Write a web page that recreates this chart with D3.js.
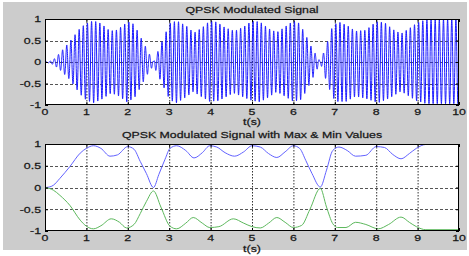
<!DOCTYPE html>
<html><head><meta charset="utf-8">
<script src="https://cdn.jsdelivr.net/npm/d3@7"></script>
<style>
body{margin:0;background:#fff}
svg{display:block}
text{font-family:"Liberation Sans",Arial,sans-serif;fill:#111;stroke:#222;stroke-width:0.25px}
</style>
</head><body>
<script>
// ---- data ----
const xTicks = [0,1,2,3,4,5,6,7,8,9,10];
const yTicks = [-1,-0.5,0,0.5,1];
const yTickLabels = ["-1","-0.5","0","0.5","1"];
const titles = ["QPSK Modulated Signal","QPSK Modulated Signal with Max & Min Values"];
const xLabel = "t(s)";
// upper envelope (max values)
const maxT = [0,0.1,0.2,0.36,0.6,0.85,1.0,1.17,1.35,1.57,1.75,2.0,2.15,2.3,2.45,2.62,2.75,2.9,3.02,3.18,3.4,3.6,3.8,3.98,4.15,4.35,4.58,4.8,5.0,5.2,5.4,5.6,5.8,6.0,6.15,6.3,6.45,6.65,6.8,6.95,7.1,7.3,7.5,7.75,8.0,8.2,8.4,8.6,8.8,8.97,9.2,10];
const maxV = [0,0.01,0.05,0.21,0.48,0.79,0.9,0.96,0.9,0.72,0.75,0.94,0.88,0.6,0.32,0.0,0.3,0.65,0.9,0.96,0.85,0.68,0.8,0.96,0.93,0.8,0.72,0.82,0.96,0.93,0.78,0.69,0.82,0.96,0.9,0.62,0.32,0.01,0.4,0.85,0.93,0.85,0.72,0.74,0.94,0.92,0.76,0.66,0.78,0.9,0.99,1.0];
// lower envelope (min values)
const minT = [0,0.2,0.36,0.6,0.85,1.0,1.17,1.35,1.6,1.8,1.97,2.15,2.3,2.45,2.62,2.8,3.02,3.18,3.4,3.58,3.8,3.98,4.2,4.55,4.8,5.0,5.2,5.4,5.6,5.8,6.0,6.2,6.4,6.65,6.8,6.95,7.07,7.27,7.5,7.75,8.05,8.3,8.6,8.8,8.97,9.2,10];
const minV = [0,-0.06,-0.18,-0.41,-0.75,-0.89,-0.95,-0.88,-0.72,-0.8,-0.93,-0.85,-0.6,-0.32,-0.08,-0.45,-0.89,-0.95,-0.82,-0.69,-0.82,-0.92,-0.9,-0.72,-0.82,-0.9,-0.93,-0.82,-0.69,-0.8,-0.92,-0.87,-0.5,-0.02,-0.45,-0.83,-0.92,-0.92,-0.8,-0.85,-0.95,-0.85,-0.68,-0.8,-0.9,-0.97,-0.97];
const carrierHz = 10;

// ---- drawing ----
const W = 469, H = 256;
const svg = d3.select("body").append("svg").attr("width", W).attr("height", H);
svg.append("rect").attr("x",3).attr("y",2).attr("width",464).attr("height",248).attr("fill","#cccccc");

const L = 45, R = 459;
const x = d3.scaleLinear().domain([0,10]).range([L,R]);
const envMax = d3.scaleLinear().domain(maxT).range(maxV);
const envMin = d3.scaleLinear().domain(minT).range(minV);

const panels = [
  {top:19, bottom:105, title:titles[0], titleY:9.5, tickY:112, labelY:121.5},
  {top:144, bottom:231, title:titles[1], titleY:134.5, tickY:238, labelY:248.5}
];
const SX = 1.3;

function txt(g, px, py, s, anchor){
  g.append("text").attr("transform",`translate(${px},${py}) scale(${SX},1)`)
    .attr("text-anchor",anchor).attr("dy","0.35em")
    .style("font-size","9.5px").text(s);
}

panels.forEach((p,i)=>{
  const y = d3.scaleLinear().domain([-1,1]).range([p.bottom,p.top]);
  const g = svg.append("g");
  g.append("rect").attr("x",L).attr("y",p.top).attr("width",R-L).attr("height",p.bottom-p.top).attr("fill","#fff");
  const cid = "clip"+i;
  g.append("clipPath").attr("id",cid).append("rect").attr("x",L).attr("y",p.top).attr("width",R-L).attr("height",p.bottom-p.top);

  // grid
  g.append("g").selectAll("line").data(xTicks.slice(1,-1)).join("line")
    .attr("x1",d=>x(d)+0.5).attr("x2",d=>x(d)+0.5).attr("y1",p.top).attr("y2",p.bottom)
    .attr("stroke","#333").attr("stroke-width",1).attr("stroke-dasharray","1.5,1.5");
  g.append("g").selectAll("line").data(yTicks.slice(1,-1)).join("line")
    .attr("y1",d=>Math.round(y(d))+0.5).attr("y2",d=>Math.round(y(d))+0.5).attr("x1",L).attr("x2",R)
    .attr("stroke","#555").attr("stroke-width",1).attr("stroke-dasharray","3,2");

  const pg = g.append("g").attr("clip-path",`url(#${cid})`);
  if(i===0){
    const N = 5000;
    const pts = d3.range(N+1).map(k=>{
      const t = k*10/N;
      const s = Math.sin(2*Math.PI*carrierHz*t);
      return [t, s>=0 ? s*envMax(t) : -s*envMin(t)];
    });
    pg.append("path").datum(pts).attr("fill","none").attr("stroke","#1a1aff").attr("stroke-width",1)
      .attr("d", d3.line().x(d=>x(d[0])).y(d=>y(d[1])));
  } else {
    const lineMax = d3.line().x((d,k)=>x(maxT[k])).y(d=>y(d)).curve(d3.curveMonotoneX);
    const lineMin = d3.line().x((d,k)=>x(minT[k])).y(d=>y(d)).curve(d3.curveMonotoneX);
    pg.append("path").datum(maxV).attr("fill","none").attr("stroke","#6262ff").attr("stroke-width",1).attr("d",lineMax);
    pg.append("path").datum(minV).attr("fill","none").attr("stroke","#5cb85c").attr("stroke-width",1).attr("d",lineMin);
  }

  // axes with inward ticks
  const ab = g.append("g").attr("transform",`translate(0,${p.bottom})`)
    .call(d3.axisBottom(x).tickValues(xTicks).tickSizeInner(-3).tickSizeOuter(0).tickFormat(""));
  const at = g.append("g").attr("transform",`translate(0,${p.top})`)
    .call(d3.axisTop(x).tickValues(xTicks).tickSizeInner(-3).tickSizeOuter(0).tickFormat(""));
  const al = g.append("g").attr("transform",`translate(${L},0)`)
    .call(d3.axisLeft(y).tickValues(yTicks).tickSizeInner(-3).tickSizeOuter(0).tickFormat(""));
  const ar = g.append("g").attr("transform",`translate(${R},0)`)
    .call(d3.axisRight(y).tickValues(yTicks).tickSizeInner(-3).tickSizeOuter(0).tickFormat(""));
  [ab,at,al,ar].forEach(a=>{a.select(".domain").remove(); a.selectAll("line").attr("stroke","#000");});

  g.append("rect").attr("x",L+0.5).attr("y",p.top+0.5).attr("width",R-L-1).attr("height",p.bottom-p.top-1)
    .attr("fill","none").attr("stroke","#000").attr("stroke-width",1);

  // tick labels
  xTicks.forEach(v=>txt(g, x(v), p.tickY, String(v), "middle"));
  yTicks.forEach((v,k)=>txt(g, 41, y(v), yTickLabels[k], "end"));
  txt(g, (L+R)/2, p.titleY, p.title, "middle");
  txt(g, (L+R)/2, p.labelY, xLabel, "middle");
});
</script>
</body></html>
